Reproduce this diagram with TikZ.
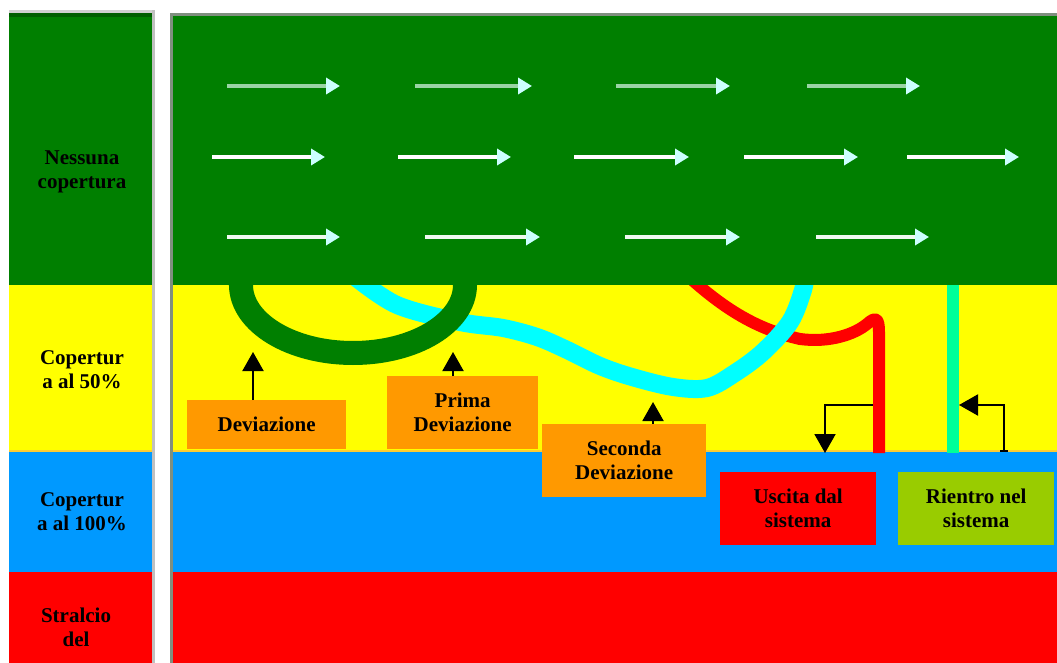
\documentclass[tikz,border=0pt]{standalone}
\usepackage{fontspec}
\setmainfont{Liberation Serif}
\usetikzlibrary{arrows.meta}
\definecolor{bandgreen}{HTML}{007F00}
\definecolor{bandgreendark}{HTML}{005F00}
\definecolor{bandyellow}{HTML}{FFFF00}
\definecolor{bandblue}{HTML}{0099FF}
\definecolor{bandred}{HTML}{FF0000}
\definecolor{boxorange}{HTML}{FF9900}
\definecolor{boxolive}{HTML}{99CC00}
\definecolor{curvecyan}{HTML}{00FFFF}
\definecolor{curvemint}{HTML}{00FF99}
\definecolor{edgeline}{HTML}{FFCC33}
\definecolor{flowhead}{HTML}{CCFFFF}
\definecolor{flowlinea}{HTML}{9AD4A5}
\definecolor{topgrey}{HTML}{D0D0D0}
\definecolor{sidegrey}{HTML}{C0C0C0}
\definecolor{framegrey}{HTML}{7F8F7F}
\begin{document}
\begin{tikzpicture}[x=1pt,y=-1pt,
  lbl/.style={font=\fontsize{21}{24}\selectfont\bfseries, align=center, text=black, inner sep=0pt},
  infobox/.style={lbl, anchor=north west},
  ptr/.style={draw=black, line width=2pt, -{Triangle[length=19pt,width=21pt]}},
  flow/.style={line width=3.5pt, -{Triangle[length=14pt,width=16pt,color=flowhead]}},
  band/.style={line width=#1, line cap=butt, line join=round}
]
\useasboundingbox (0,0) rectangle (1057,663);
\fill[white] (0,0) rectangle (1057,663);

% ---------- left column ----------
\fill[bandyellow] (9,284.5) rectangle (152,452);
\fill[bandblue] (9,452) rectangle (152,572);
\fill[bandred] (9,572) rectangle (152,663);
\draw[edgeline, line width=2pt] (9,451.3) -- (152,451.3);
\fill[bandgreen] (9,13) rectangle (152,284.5);
\fill[bandgreendark] (9,13) rectangle (152,17);
\fill[topgrey] (9,10) rectangle (152,13);
\fill[sidegrey] (152,10) rectangle (155,663);

% ---------- main panel bands ----------
\fill[bandyellow] (171,284.5) rectangle (1057,452);
\fill[bandblue] (171,452) rectangle (1057,572);
\fill[bandred] (171,572) rectangle (1057,663);
\draw[edgeline, line width=2pt] (171,451.3) -- (1057,451.3);

% ---------- curves ----------
% red path (exit)
\draw[bandred, band=12pt] (690,278) .. controls (728,312) and (760,330) .. (800,339)
   .. controls (830,343) and (855,334) .. (867,324)
   .. controls (876,316) and (879,318) .. (879,332) -- (879,453);
% cyan path (second deviation)
\draw[curvecyan, band=18pt] plot[smooth, tension=0.55] coordinates {
  (354,276) (397,305) (460,322) (503,328) (537,337) (565,349) (600,366)
  (632,377) (673,387) (707,388) (735,373) (763,352) (790,322) (803,290) (805,276)};
% green arc (first deviation)
\draw[bandgreen, band=24pt] (240,278) -- (241,285) .. controls (241,322.6) and (291.1,353) .. (353,353)
   .. controls (414.9,353) and (465,322.6) .. (465,285) -- (465,278);
% mint re-entry line
\draw[curvemint, band=12pt] (953,280) -- (953,453);

% green band on top
\fill[bandgreen] (171,14) rectangle (1057,284.5);
% frame lines
\fill[framegrey] (170,13) rectangle (1057,16.5);
\fill[framegrey] (170,13) rectangle (173,663);

% ---------- flow arrows in the green band ----------
\foreach \a/\b in {227/340, 415/532, 616/730, 807/920}
  \draw[flow, flowlinea] (\a,86) -- (\b,86);
\foreach \a/\b in {212/325, 398/511, 574/689, 744/858, 907/1019}
  \draw[flow, white] (\a,157) -- (\b,157);
\foreach \a/\b in {227/340, 425/540, 625/740, 816/929}
  \draw[flow, white!85!flowlinea] (\a,237) -- (\b,237);

% ---------- left labels ----------
\node[lbl] (lnone) at (82,172) {Nessuna\\copertura};
\node[lbl] (lhalf) at (82,370) {Copertur\\a al 50\%};
\node[lbl] (lfull) at (82,512) {Copertur\\a al 100\%};
\node[lbl] (lcut) at (76,627) {Stralcio\\del};

% ---------- boxes ----------
\node[infobox, fill=boxorange, minimum width=159pt, minimum height=49pt] (dev) at (187,400) {Deviazione};
\node[infobox, fill=boxorange, minimum width=151pt, minimum height=73pt] (prima) at (387,376) {Prima\\Deviazione};
\node[infobox, fill=boxorange, minimum width=164pt, minimum height=73pt] (seconda) at (542,424) {Seconda\\Deviazione};
\node[infobox, fill=bandred, minimum width=156pt, minimum height=73pt] (uscita) at (720,472) {Uscita dal\\sistema};
\node[infobox, fill=boxolive, minimum width=156pt, minimum height=73pt] (rientro) at (898,472) {Rientro nel\\sistema};

% ---------- pointer arrows ----------
\coordinate (devtip) at (253,352);
\coordinate (primatip) at (453,352);
\coordinate (secondatip) at (653,402);
\coordinate (exitstart) at (873,405);
\coordinate (exitend) at (825,453);
\coordinate (reentrystart) at (1004,452);
\coordinate (reentryend) at (959,405);

\draw[ptr] (dev.north -| devtip) -- (devtip);
\draw[ptr] (prima.north -| primatip) -- (primatip);
\draw[ptr] (seconda.north -| secondatip) -- (secondatip);
\draw[ptr] (exitstart) -| (exitend);
\draw[ptr, {Bar[width=8pt]}-{Triangle[length=19pt,width=21pt]}] (reentrystart) |- (reentryend);
\end{tikzpicture}
\end{document}
